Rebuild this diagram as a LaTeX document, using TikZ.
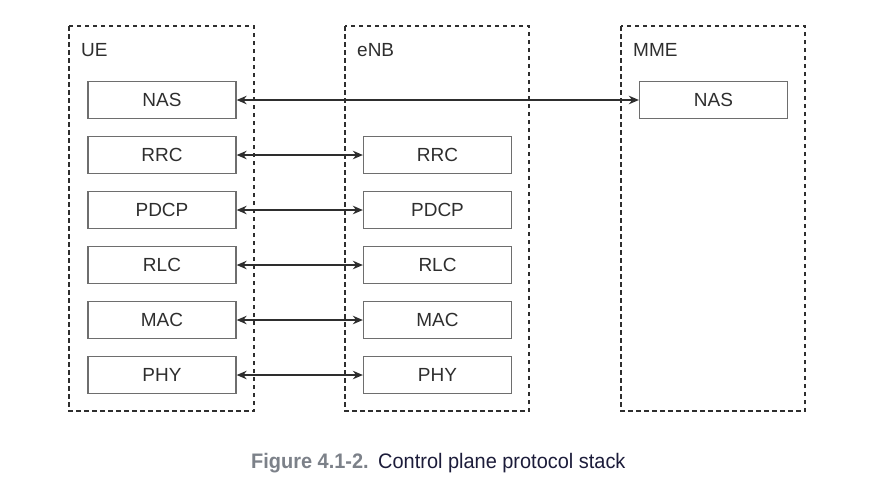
\documentclass[tikz,border=0pt]{standalone}
\usepackage{fontspec}
\setmainfont{Liberation Sans}
\usetikzlibrary{arrows.meta}
\definecolor{boxline}{HTML}{6E6E6E}
\definecolor{txt}{HTML}{2E2E2E}
\definecolor{capgray}{HTML}{7C8189}
\definecolor{capnavy}{HTML}{1C1C3A}
\tikzset{
  entity/.style={draw=txt, line width=1.4pt, dash pattern=on 4.5pt off 3.5pt},
  layer/.style={draw=boxline, line width=1.3pt, minimum width=148pt, minimum height=37pt, inner sep=0pt, font=\fontsize{19}{21}\selectfont, text=txt},
  elabel/.style={anchor=base west, font=\fontsize{19}{21}\selectfont, text=txt, inner sep=0pt},
  link/.style={draw=txt, line width=1.4pt, {Stealth[length=10pt,width=8.5pt]}-{Stealth[length=10pt,width=8.5pt]}}
}
\begin{document}
\begin{tikzpicture}[x=1pt,y=-1pt]
\useasboundingbox (0,0) rectangle (869,488);
% entity frames
\draw[entity] (69,26) rectangle (254,411);
\draw[entity] (345,26) rectangle (529,411);
\draw[entity] (621,26) rectangle (805,411);
\node[elabel] (lue) at (81,56.5) {UE};
\node[elabel] (lenb) at (357,56.5) {eNB};
\node[elabel] (lmme) at (633,56.5) {MME};
% UE stack
\node[layer] (uenas) at (162,100) {NAS};
\node[layer] (uerrc) at (162,155) {RRC};
\node[layer] (uepdcp) at (162,210) {PDCP};
\node[layer] (uerlc) at (162,265) {RLC};
\node[layer] (uemac) at (162,320) {MAC};
\node[layer] (uephy) at (162,375) {PHY};
% eNB stack
\node[layer] (enbrrc) at (437.5,155) {RRC};
\node[layer] (enbpdcp) at (437.5,210) {PDCP};
\node[layer] (enbrlc) at (437.5,265) {RLC};
\node[layer] (enbmac) at (437.5,320) {MAC};
\node[layer] (enbphy) at (437.5,375) {PHY};
% MME
\node[layer] (mmenas) at (713.5,100) {NAS};
% links
\draw[link] (uenas.east) -- (mmenas.west);
\draw[link] (uerrc.east) -- (enbrrc.west);
\draw[link] (uepdcp.east) -- (enbpdcp.west);
\draw[link] (uerlc.east) -- (enbrlc.west);
\draw[link] (uemac.east) -- (enbmac.west);
\draw[link] (uephy.east) -- (enbphy.west);
% caption
\node[anchor=base west, inner sep=0pt] (cap) at (251,468) {\scalebox{0.95}[1]{\fontsize{21}{23}\selectfont\textcolor{capgray}{\textbf{Figure 4.1-2.}}\hspace{10pt}\textcolor{capnavy}{Control plane protocol stack}}};
\end{tikzpicture}
\end{document}
